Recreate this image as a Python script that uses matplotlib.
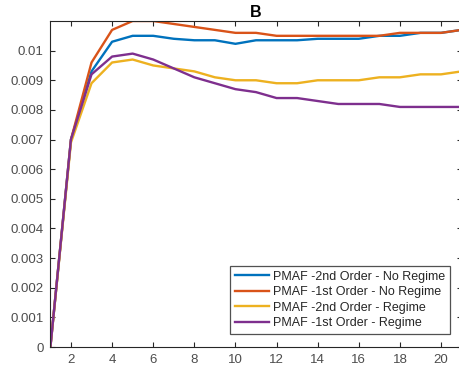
import matplotlib
matplotlib.use("Agg")
import matplotlib.pyplot as plt

plt.rcParams['font.family'] = ['Liberation Sans', 'DejaVu Sans']

# horizon steps
steps = list(range(1, 22))

pmaf2_noreg = [0, 0.0070, 0.0093, 0.0103, 0.0105, 0.0105, 0.0104, 0.01035, 0.01035, 0.01023, 0.01035,
               0.01035, 0.01035, 0.0104, 0.0104, 0.0104, 0.0105, 0.0105, 0.0106, 0.0106, 0.0107]
pmaf1_noreg = [0, 0.0070, 0.0096, 0.0107, 0.0110, 0.0110, 0.0109, 0.0108, 0.0107, 0.0106, 0.0106,
               0.0105, 0.0105, 0.0105, 0.0105, 0.0105, 0.0105, 0.0106, 0.0106, 0.0106, 0.0107]
pmaf2_reg = [0, 0.0069, 0.0089, 0.0096, 0.0097, 0.0095, 0.0094, 0.0093, 0.0091, 0.0090, 0.0090,
             0.0089, 0.0089, 0.0090, 0.0090, 0.0090, 0.0091, 0.0091, 0.0092, 0.0092, 0.0093]
pmaf1_reg = [0, 0.0070, 0.0092, 0.0098, 0.0099, 0.0097, 0.0094, 0.0091, 0.0089, 0.0087, 0.0086,
             0.0084, 0.0084, 0.0083, 0.0082, 0.0082, 0.0082, 0.0081, 0.0081, 0.0081, 0.0081]

labels = ["PMAF -2nd Order - No Regime", "PMAF -1st Order - No Regime",
          "PMAF -2nd Order - Regime", "PMAF -1st Order - Regime"]
colors = ["#0072BD", "#D95319", "#EDB120", "#7E2F8E"]

fig = plt.figure(figsize=(4.59, 3.72), dpi=100)
ax = fig.add_axes([50.4 / 459, 1 - 347 / 372, 411.2 / 459, 326 / 372])

for ys, lab, c in zip([pmaf2_noreg, pmaf1_noreg, pmaf2_reg, pmaf1_reg], labels, colors):
    ax.plot(steps, ys, color=c, lw=1.7, label=lab)

ax.set_xlim(1, 21)
ax.set_ylim(0, 0.011)
ax.set_xticks(range(2, 21, 2))
yt = [i / 1000 for i in range(0, 11)]
ax.set_yticks(yt)
ax.set_yticklabels(["0"] + ["%g" % v for v in yt[1:]])

gray = "#262626"
for s in ax.spines.values():
    s.set_color(gray)
    s.set_linewidth(0.8)
ax.tick_params(direction="in", length=3.5, width=0.8, colors=gray, labelcolor="#4d4d4d",
               labelsize=9.5, top=True, right=True, pad=5)

ax.set_title("B", fontweight="bold", fontsize=11.5, pad=3)

leg = ax.legend(loc="lower right", bbox_to_anchor=(450 / 459, 1 - 334.3 / 372),
                bbox_transform=fig.transFigure, fontsize=9, frameon=True, fancybox=False,
                edgecolor="#262626", borderpad=0.4, labelspacing=0.28, handlelength=2.7,
                handletextpad=0.3, borderaxespad=0)
leg.get_frame().set_linewidth(0.9)
for t in leg.get_texts():
    t.set_color("#262626")

fig.savefig("out.png", dpi=100)
